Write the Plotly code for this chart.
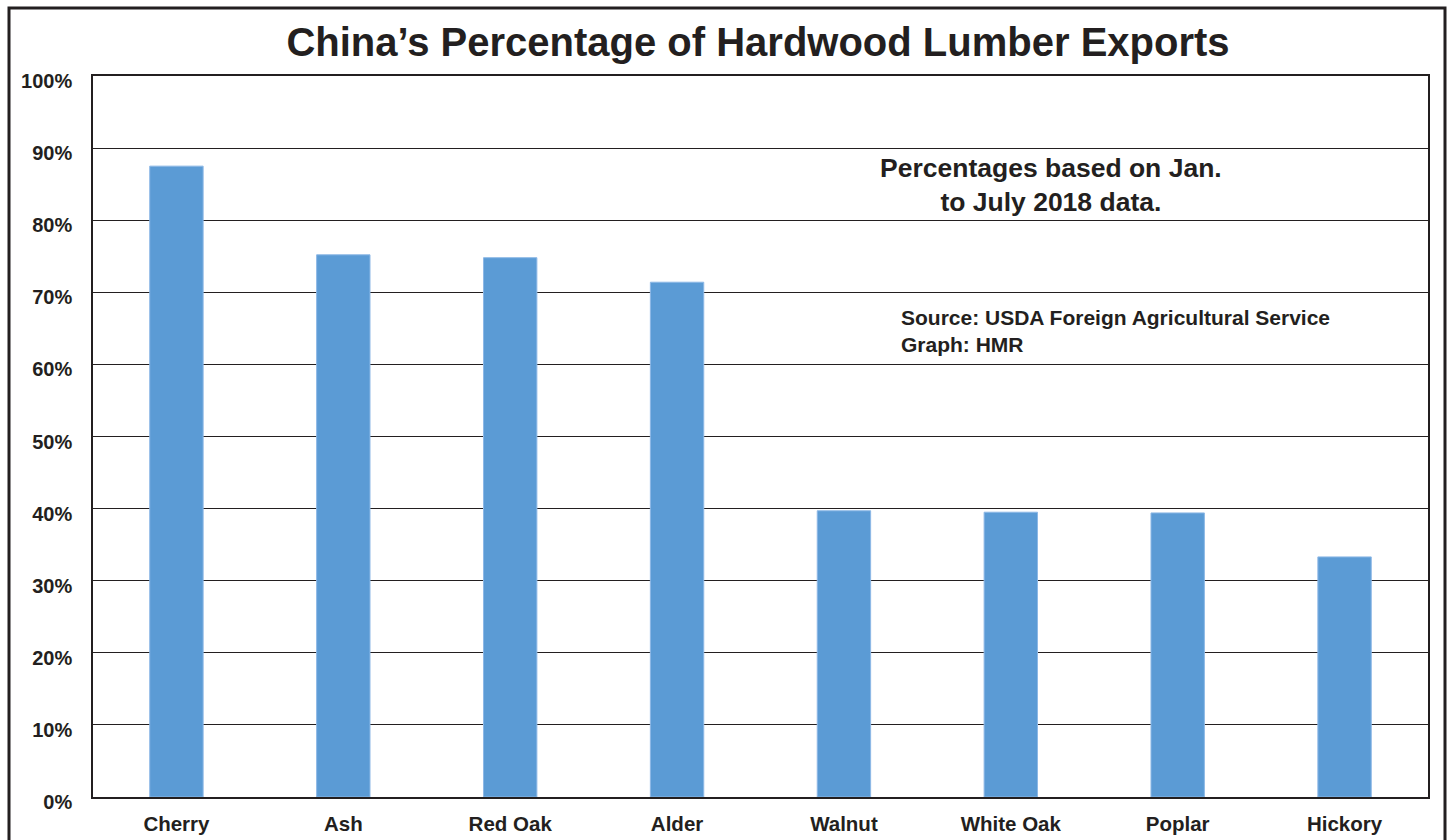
import plotly.graph_objects as go

categories = ["Cherry", "Ash", "Red Oak", "Alder", "Walnut", "White Oak", "Poplar", "Hickory"]
values = [87.5, 75.2, 74.8, 71.4, 39.7, 39.5, 39.4, 33.3]
tick_vals = [0, 10, 20, 30, 40, 50, 60, 70, 80, 90, 100]
tick_text = [f"{v}%" for v in tick_vals]

W, H = 1450, 840
L, R, T, B = 93, 1428, 76, 797

fig = go.Figure(go.Bar(
    x=categories, y=values,
    marker=dict(color="#5B9BD5", line=dict(color="#8DB8E6", width=1)),
    width=0.32,
))

def px_x(p):
    return (p - L) / (R - L)

def px_y(p):
    return (B - p) / (B - T)

fig.update_layout(
    width=W, height=H,
    margin=dict(l=L, r=W - R, t=T, b=H - B, autoexpand=False),
    paper_bgcolor="white", plot_bgcolor="white",
    showlegend=False,
    font=dict(family="Liberation Sans, Arial, sans-serif", color="#231F20"),
    title=dict(text="<b>China’s Percentage of Hardwood Lumber Exports</b>",
               x=px_x(758), xref="paper", xanchor="center", y=1 - 42 / H, yanchor="middle",
               font=dict(size=40, color="#231F20")),
    xaxis=dict(showgrid=False, showline=True, linecolor="#231F20", linewidth=1.5,
               mirror=True, ticks="", tickfont=dict(size=20.5), ticklabelstandoff=8,
               automargin=False),
    yaxis=dict(range=[0, 100], tickvals=tick_vals, ticktext=[f"<b>{t}</b>" for t in tick_text],
               showgrid=True, gridcolor="#231F20", gridwidth=1,
               showline=True, linecolor="#231F20", linewidth=1.5, mirror=True,
               ticks="", tickfont=dict(size=20), zeroline=False, ticklabelstandoff=15,
               ticklabelshift=5, automargin=False),
    bargap=0.68,
)
fig.update_xaxes(tickvals=categories, ticktext=[f"<b>{c}</b>" for c in categories])

fig.add_annotation(text="<b>Percentages based on Jan.<br>to July 2018 data.</b>",
                   xref="paper", yref="paper", x=px_x(1051), y=px_y(185),
                   xanchor="center", yanchor="middle", showarrow=False,
                   font=dict(size=26.5, color="#231F20"), align="center")
fig.add_annotation(text="<b>Source: USDA Foreign Agricultural Service<br>Graph: HMR</b>",
                   xref="paper", yref="paper", x=px_x(899), y=px_y(331),
                   xanchor="left", yanchor="middle", showarrow=False,
                   font=dict(size=21, color="#231F20"), align="left")

# outer frame
fig.add_shape(type="path", xref="paper", yref="paper",
              path=f"M {px_x(9)} {px_y(860)} L {px_x(9)} {px_y(8)} L {px_x(1445)} {px_y(8)} L {px_x(1445)} {px_y(860)}",
              line=dict(color="#231F20", width=3))

fig.write_html("out.html")
